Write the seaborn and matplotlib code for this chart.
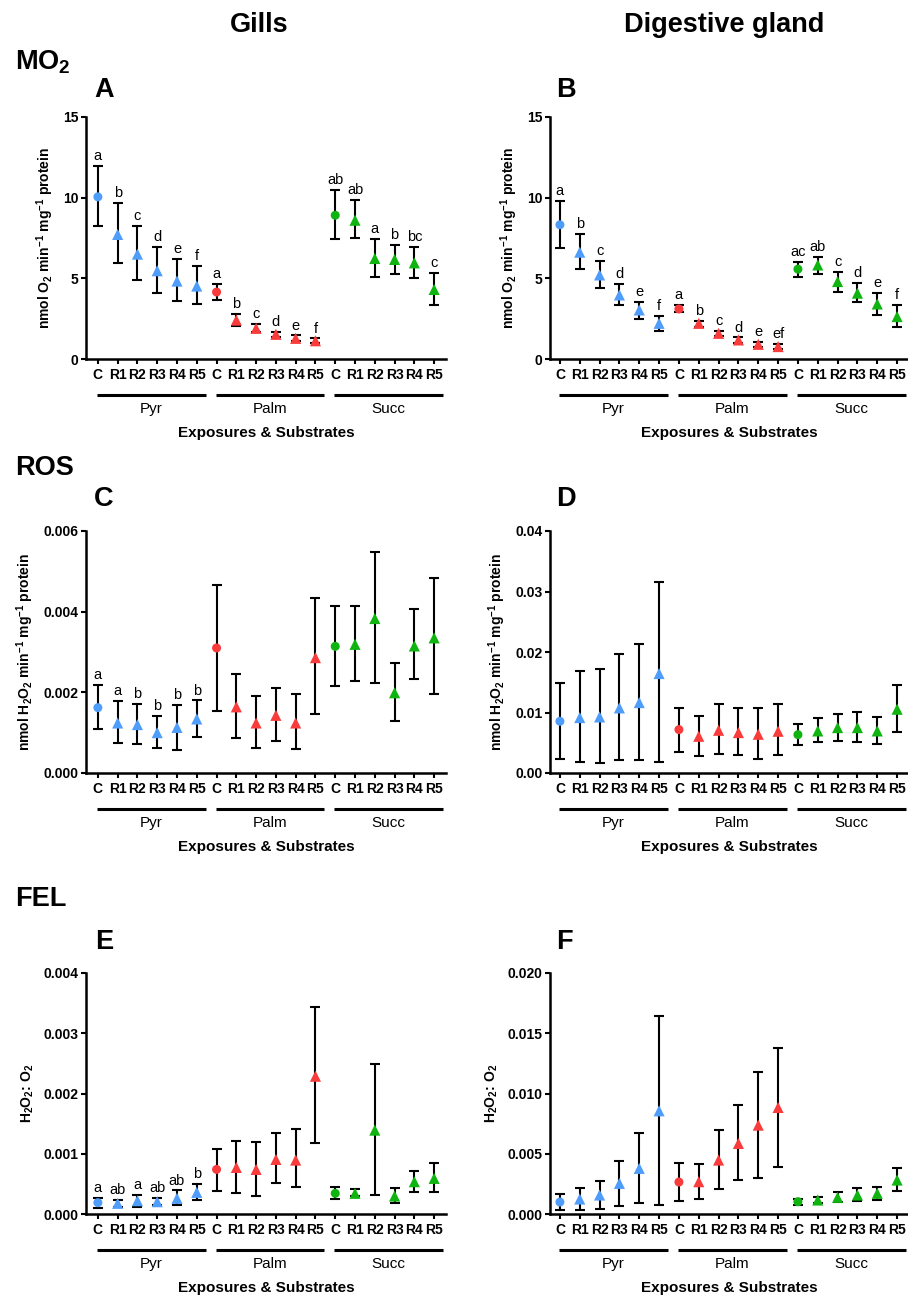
import matplotlib
matplotlib.use("Agg")
import matplotlib.pyplot as plt
import numpy as np
import pandas as pd
import seaborn as sns

treatments = ["C", "R1", "R2", "R3", "R4", "R5"]
substrates = ["Pyr", "Palm", "Succ"]
palette = {"Pyr": "#4f9dfb", "Palm": "#f93b3b", "Succ": "#10b410"}

# A - MO2, gills
mo2_gill_mean = [10.05, 7.72, 6.50, 5.47, 4.83, 4.52, 4.15, 2.41, 1.90, 1.53, 1.28, 1.13, 8.91, 8.60, 6.23, 6.17, 5.96, 4.31]
mo2_gill_lo = [8.23, 5.94, 4.89, 4.10, 3.59, 3.40, 3.67, 2.06, 1.69, 1.38, 1.13, 1.01, 7.41, 7.47, 5.10, 5.26, 5.03, 3.34]
mo2_gill_hi = [11.97, 9.66, 8.23, 6.97, 6.21, 5.78, 4.66, 2.79, 2.17, 1.69, 1.46, 1.28, 10.46, 9.86, 7.45, 7.06, 6.97, 5.34]
mo2_gill_letters = ["a", "b", "c", "d", "e", "f", "a", "b", "c", "d", "e", "f", "ab", "ab", "a", "b", "bc", "c"]

# B - MO2, digestive gland
mo2_dg_mean = [8.32, 6.62, 5.21, 3.97, 3.04, 2.21, 3.10, 2.21, 1.59, 1.18, 0.91, 0.77, 5.57, 5.83, 4.80, 4.08, 3.41, 2.63]
mo2_dg_lo = [6.87, 5.57, 4.37, 3.35, 2.48, 1.76, 2.90, 1.97, 1.43, 0.97, 0.74, 0.60, 5.07, 5.28, 4.16, 3.52, 2.73, 1.97]
mo2_dg_hi = [9.81, 7.74, 6.06, 4.66, 3.56, 2.69, 3.35, 2.36, 1.72, 1.34, 1.06, 0.93, 6.04, 6.35, 5.40, 4.74, 4.12, 3.33]
mo2_dg_letters = ["a", "b", "c", "d", "e", "f", "a", "b", "c", "d", "e", "ef", "ac", "ab", "c", "d", "e", "f"]

# C - ROS, gills
ros_gill_mean = [0.00162, 0.00124, 0.00120, 0.00100, 0.00113, 0.00134, 0.00310, 0.00164, 0.00124, 0.00143, 0.00124, 0.00286, 0.00314, 0.00319, 0.00383, 0.00199, 0.00315, 0.00335]
ros_gill_lo = [0.00108, 0.00075, 0.00072, 0.00063, 0.00058, 0.00089, 0.00154, 0.00086, 0.00062, 0.00079, 0.00059, 0.00146, 0.00215, 0.00229, 0.00223, 0.00129, 0.00232, 0.00195]
ros_gill_hi = [0.00218, 0.00179, 0.00171, 0.00142, 0.00168, 0.00180, 0.00465, 0.00245, 0.00192, 0.00211, 0.00197, 0.00434, 0.00415, 0.00415, 0.00549, 0.00273, 0.00406, 0.00483]
ros_gill_letters = ["a", "a", "b", "b", "b", "b"] + [""] * 12

# D - ROS, digestive gland
ros_dg_mean = [0.00855, 0.00916, 0.00927, 0.01076, 0.01164, 0.01644, 0.00717, 0.00607, 0.00706, 0.00668, 0.00640, 0.00690, 0.00634, 0.00695, 0.00750, 0.00750, 0.00695, 0.01054]
ros_dg_lo = [0.00226, 0.00177, 0.00160, 0.00210, 0.00221, 0.00177, 0.00353, 0.00287, 0.00314, 0.00303, 0.00237, 0.00292, 0.00463, 0.00513, 0.00524, 0.00508, 0.00474, 0.00679]
ros_dg_hi = [0.01490, 0.01683, 0.01727, 0.01970, 0.02135, 0.03150, 0.01081, 0.00949, 0.01137, 0.01070, 0.01076, 0.01137, 0.00811, 0.00905, 0.00971, 0.01010, 0.00932, 0.01451]
ros_dg_letters = [""] * 18

# E - FEL, gills
fel_gill_mean = [0.000188, 0.000177, 0.000221, 0.000204, 0.000260, 0.000359, 0.000740, 0.000773, 0.000740, 0.000906, 0.000895, 0.002287, 0.000343, 0.000343, 0.001392, 0.000298, 0.000536, 0.000591]
fel_gill_lo = [0.000105, 0.000122, 0.000122, 0.000149, 0.000144, 0.000232, 0.000381, 0.000354, 0.000298, 0.000514, 0.000442, 0.001171, 0.000249, 0.000298, 0.000320, 0.000188, 0.000370, 0.000370]
fel_gill_hi = [0.000265, 0.000232, 0.000315, 0.000265, 0.000392, 0.000503, 0.001083, 0.001204, 0.001199, 0.001343, 0.001403, 0.003442, 0.000448, 0.000414, 0.002486, 0.000425, 0.000718, 0.000845]
fel_gill_letters = ["a", "ab", "a", "ab", "ab", "b"] + [""] * 12

# F - FEL, digestive gland
fel_dg_mean = [0.000994, 0.001243, 0.001575, 0.002541, 0.003785, 0.008564, 0.002652, 0.002680, 0.004475, 0.005856, 0.007376, 0.008840, 0.001022, 0.001160, 0.001381, 0.001575, 0.001713, 0.002818]
fel_dg_lo = [0.000331, 0.000359, 0.000387, 0.000691, 0.000939, 0.000773, 0.001105, 0.001271, 0.002044, 0.002818, 0.003011, 0.003923, 0.000746, 0.000939, 0.001022, 0.001077, 0.001188, 0.001934]
fel_dg_hi = [0.001657, 0.002127, 0.002735, 0.004420, 0.006713, 0.016436, 0.004199, 0.004144, 0.006961, 0.009061, 0.011796, 0.013812, 0.001271, 0.001409, 0.001796, 0.002182, 0.002210, 0.003785]
fel_dg_letters = [""] * 18

ylabel_rate = r"nmol O$_2$ min$^{-1}$ mg$^{-1}$ protein"
ylabel_ros = r"nmol H$_2$O$_2$ min$^{-1}$ mg$^{-1}$ protein"
ylabel_fel = r"H$_2$O$_2$: O$_2$"

sns.set_theme(style="ticks")
plt.rcParams.update({
    "font.family": ["Liberation Sans", "DejaVu Sans"],
    "mathtext.fontset": "custom",
    "mathtext.rm": "Liberation Sans:bold",
    "mathtext.it": "Liberation Sans:bold",
    "mathtext.bf": "Liberation Sans:bold",
    "mathtext.default": "rm",
    "text.color": "black",
    "axes.labelcolor": "black",
    "axes.edgecolor": "black",
    "xtick.color": "black",
    "ytick.color": "black",
    "axes.linewidth": 1.8,
    "xtick.major.width": 1.5,
    "ytick.major.width": 1.5,
    "xtick.major.size": 3.5,
    "ytick.major.size": 3.5,
})


def make_frame(mean, lo, hi, letters):
    df = pd.DataFrame({
        "substrate": np.repeat(substrates, len(treatments)),
        "treatment": treatments * len(substrates),
        "mean": mean, "lo": lo, "hi": hi, "letter": letters,
    })
    df["pos"] = np.arange(len(df))
    return df


def draw_panel(ax, df, ylim, yticks, yfmt, ylabel, xlim):
    ax.errorbar(df["pos"], df["mean"],
                yerr=[df["mean"] - df["lo"], df["hi"] - df["mean"]],
                fmt="none", ecolor="black", elinewidth=1.5, capsize=3.5,
                capthick=1.5, zorder=2)
    ctrl = df[df["treatment"] == "C"]
    reps = df[df["treatment"] != "C"]
    sns.scatterplot(data=ctrl, x="pos", y="mean", hue="substrate", palette=palette,
                    marker="o", s=42, linewidth=0, legend=False, ax=ax, zorder=3)
    sns.scatterplot(data=reps, x="pos", y="mean", hue="substrate", palette=palette,
                    marker="^", s=64, linewidth=0, legend=False, ax=ax, zorder=3)
    for _, r in df.iterrows():
        if r["letter"]:
            ax.annotate(r["letter"], (r["pos"], r["hi"]), xytext=(0, 2),
                        textcoords="offset points", ha="center", va="bottom",
                        fontsize=10.5, color="black")
    ax.set_xlim(*xlim)
    ax.set_ylim(*ylim)
    ax.set_yticks(yticks)
    ax.set_yticklabels([yfmt.format(v) for v in yticks], fontsize=10, fontweight="bold")
    ax.set_xticks(df["pos"])
    ax.set_xticklabels(df["treatment"], fontsize=10, fontweight="bold")
    ax.tick_params(axis="x", pad=3)
    ax.tick_params(axis="y", pad=2)
    ax.set_xlabel("")
    ax.set_ylabel(ylabel, fontsize=10, fontweight="bold", labelpad=5)
    sns.despine(ax=ax)
    trans = ax.get_xaxis_transform()
    for g, name in enumerate(substrates):
        x0 = g * 6 - 0.05
        x1 = g * 6 + 5.45
        ax.plot([x0, x1], [-0.148, -0.148], transform=trans, color="black",
                lw=2.2, clip_on=False, solid_capstyle="butt")
        ax.text((x0 + x1) / 2, -0.207, name, transform=trans, ha="center",
                va="center", fontsize=11)
    ax.text(0.5, -0.306, "Exposures & Substrates", transform=ax.transAxes,
            ha="center", va="center", fontsize=11, fontweight="bold")


fig = plt.figure(figsize=(9.08, 12.97), dpi=100)

W, H = 908.0, 1297.0
col_left = [(86 / W, 360 / W), (550 / W, 358 / W)]
row_box = [(1 - 359 / H, 242 / H), (1 - 773 / H, 242 / H), (1 - 1214 / H, 241 / H)]
xlims = [(-0.6, 17.6), (-0.5, 17.55)]

panels = [
    (0, 0, make_frame(mo2_gill_mean, mo2_gill_lo, mo2_gill_hi, mo2_gill_letters),
     (0, 15), [0, 5, 10, 15], "{:.0f}", ylabel_rate),
    (0, 1, make_frame(mo2_dg_mean, mo2_dg_lo, mo2_dg_hi, mo2_dg_letters),
     (0, 15), [0, 5, 10, 15], "{:.0f}", ylabel_rate),
    (1, 0, make_frame(ros_gill_mean, ros_gill_lo, ros_gill_hi, ros_gill_letters),
     (0, 0.006), [0, 0.002, 0.004, 0.006], "{:.3f}", ylabel_ros),
    (1, 1, make_frame(ros_dg_mean, ros_dg_lo, ros_dg_hi, ros_dg_letters),
     (0, 0.04), [0, 0.01, 0.02, 0.03, 0.04], "{:.2f}", ylabel_ros),
    (2, 0, make_frame(fel_gill_mean, fel_gill_lo, fel_gill_hi, fel_gill_letters),
     (0, 0.004), [0, 0.001, 0.002, 0.003, 0.004], "{:.3f}", ylabel_fel),
    (2, 1, make_frame(fel_dg_mean, fel_dg_lo, fel_dg_hi, fel_dg_letters),
     (0, 0.020), [0, 0.005, 0.010, 0.015, 0.020], "{:.3f}", ylabel_fel),
]

for row, col, df, ylim, yticks, yfmt, ylabel in panels:
    left, width = col_left[col]
    bottom, height = row_box[row]
    ax = fig.add_axes([left, bottom, width, height])
    draw_panel(ax, df, ylim, yticks, yfmt, ylabel, xlims[col])

# column titles, row titles and panel letters
big = dict(fontsize=19.5, fontweight="bold", va="baseline")
fig.text(259 / W, 1 - 32 / H, "Gills", ha="center", **big)
fig.text(724 / W, 1 - 32 / H, "Digestive gland", ha="center", **big)
fig.text(15 / W, 1 - 70 / H, "MO$_2$", ha="left", **big)
fig.text(15 / W, 1 - 475 / H, "ROS", ha="left", **big)
fig.text(15 / W, 1 - 906 / H, "FEL", ha="left", **big)
for letter, x, y in [("A", 94, 97), ("B", 556, 97), ("C", 94, 506),
                     ("D", 556, 506), ("E", 95, 949), ("F", 556, 949)]:
    fig.text(x / W, 1 - y / H, letter, ha="left", **big)

fig.savefig("out.png", dpi=100)
